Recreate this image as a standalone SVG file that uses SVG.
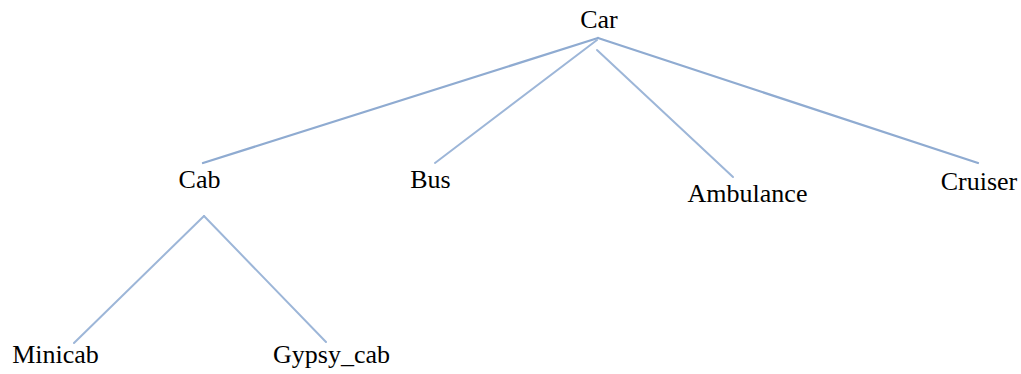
<svg xmlns="http://www.w3.org/2000/svg" width="1021" height="374" viewBox="0 0 1021 374">
<style>
text{font-size:26px;fill:#000;text-anchor:middle}
.edge{stroke:#9db6d8;stroke-width:2;fill:none;stroke-linecap:round}
.edge2{stroke:#8fabd1;stroke-width:2.3;fill:none;stroke-linecap:round}
</style>
<rect width="1021" height="374" fill="#fff"/>
<g id="connectors">
<line class="edge2" x1="598" y1="38" x2="203" y2="163"/>
<line class="edge" x1="597" y1="40" x2="435" y2="163"/>
<line class="edge" x1="597" y1="50" x2="733" y2="177"/>
<line class="edge2" x1="598" y1="38" x2="978" y2="163"/>
<line class="edge" x1="204" y1="216" x2="74" y2="343"/>
<line class="edge" x1="204" y1="216" x2="326" y2="342"/>
</g>
<g id="car"><text x="599" y="28" font-family="Times New Roman">Car</text></g>
<g id="cab"><text x="199.5" y="188" font-family="Times New Roman">Cab</text></g>
<g id="bus"><text x="430.5" y="188" font-family="Times New Roman">Bus</text></g>
<g id="ambulance"><text x="747.5" y="202" font-family="Times New Roman">Ambulance</text></g>
<g id="cruiser"><text x="979" y="190" font-family="Times New Roman">Cruiser</text></g>
<g id="minicab"><text x="55.5" y="363" font-family="Times New Roman">Minicab</text></g>
<g id="gypsy_cab"><text x="331.5" y="363" font-family="Times New Roman">Gypsy_cab</text></g>
</svg>
